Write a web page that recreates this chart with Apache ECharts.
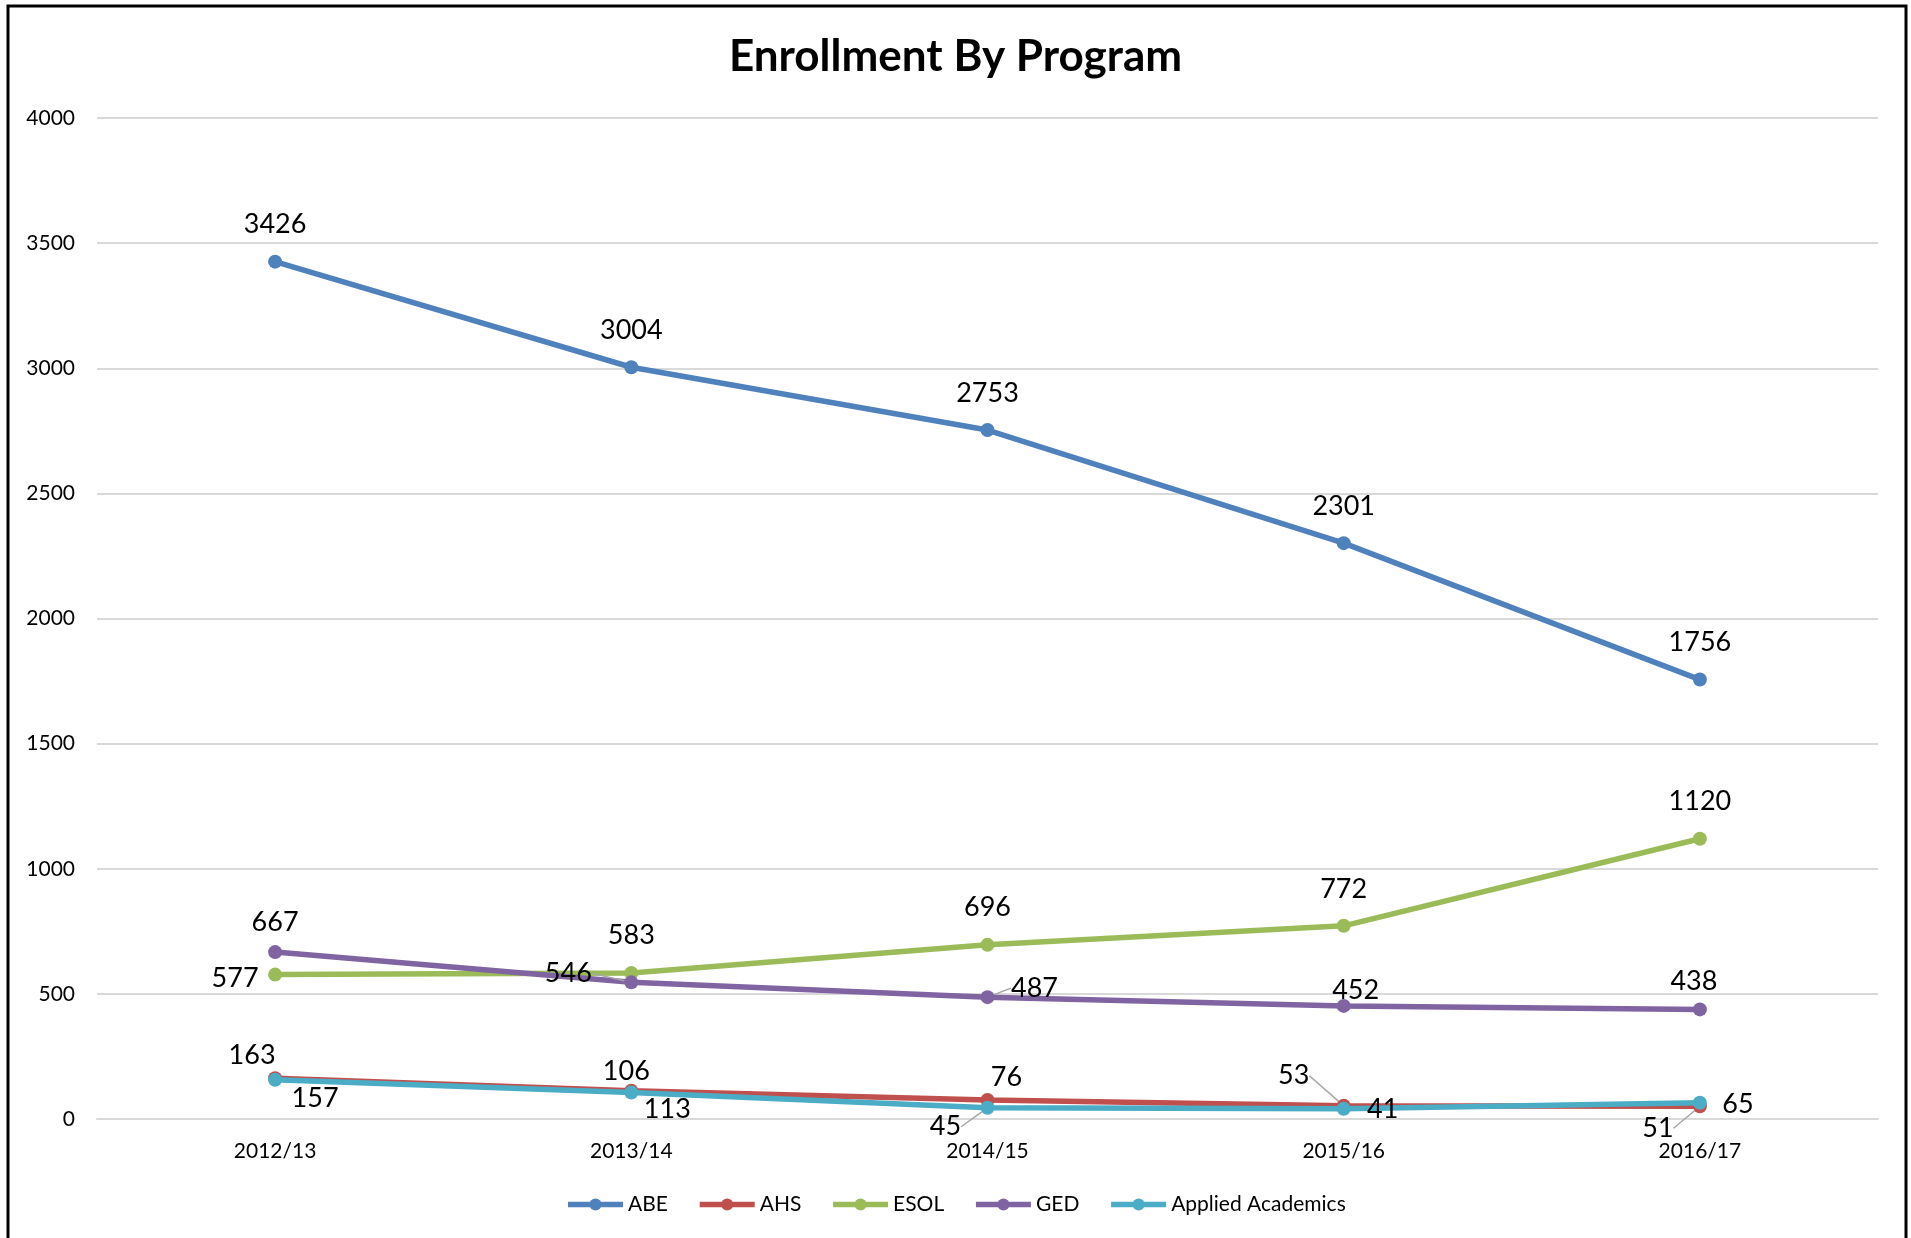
<!DOCTYPE html>
<html>
<head>
<meta charset="utf-8">
<script src="https://cdn.jsdelivr.net/npm/echarts@6/dist/echarts.min.js"></script>
<style>
  html, body { margin: 0; padding: 0; background: #fff; }
  #chart { width: 1911px; height: 1238px; }
</style>
</head>
<body>
<div id="chart"></div>
<script>
// ---- data ----
const categories = ['2012/13', '2013/14', '2014/15', '2015/16', '2016/17'];
const seriesNames = ['ABE', 'AHS', 'ESOL', 'GED', 'Applied Academics'];
const abe = [3426, 3004, 2753, 2301, 1756];
const ahs = [163, 113, 76, 53, 51];
const esol = [577, 583, 696, 772, 1120];
const ged = [667, 546, 487, 452, 438];
const appliedAcademics = [157, 106, 45, 41, 65];
const yTicks = [0, 500, 1000, 1500, 2000, 2500, 3000, 3500, 4000];

// ---- styling (label offsets in px, relative to the point) ----
const colors = ['#4F81BD', '#C0504D', '#9BBB59', '#8064A2', '#4BACC6'];
const labelOffsets = [
  [[0,-37],[0,-37],[0,-37],[0,-37],[0,-37]],
  [[-23,-23],[36,19],[19,-23],[-50,-30],[-42,22]],
  [[-40,4],[0,-38],[0,-38],[0,-37],[0,-37]],
  [[0,-30],[-63,-9],[47,-9],[12,-16],[-6,-28]],
  [[40,19],[-5,-21],[-42,19],[39,1],[38,2]]
];
const leaders = [
  [false,false,false,false,false],
  [false,false,false,true,true],
  [false,false,false,false,false],
  [false,true,true,false,false],
  [false,false,true,false,false]
];
const allData = [abe, ahs, esol, ged, appliedAcademics];

const FONT = 'Lato';
const chart = echarts.init(document.getElementById('chart'));

const series = allData.map((vals, si) => ({
  name: seriesNames[si],
  type: 'line',
  data: vals.map((v, i) => ({
    value: v,
    labelLine: { show: leaders[si][i] }
  })),
  symbol: 'circle',
  symbolSize: 14,
  lineStyle: { width: 5.5, color: colors[si] },
  itemStyle: { color: colors[si] },
  z: 2 + (si === 4 ? 1 : 0),
  label: {
    show: true,
    position: 'inside',
    color: '#000',
    fontFamily: FONT,
    fontSize: 27
  },
  labelLine: {
    show: false,
    lineStyle: { color: '#a6a6a6', width: 1.5 }
  },
  labelLayout: function (p) {
    const o = labelOffsets[p.seriesIndex][p.dataIndex];
    return { dx: o[0], dy: o[1] };
  },
  emphasis: { disabled: true },
  animation: false
}));

chart.setOption({
  animation: false,
  color: colors,
  title: {
    text: 'Enrollment By Program',
    left: 'center',
    top: 30,
    textStyle: { fontFamily: FONT, fontWeight: 'bold', fontSize: 44, color: '#000' }
  },
  grid: { left: 97, right: 33, top: 118, bottom: 119, containLabel: false },
  legend: {
    bottom: 18,
    left: 'center',
    itemWidth: 55,
    itemHeight: 15,
    itemGap: 29,
    lineStyle: { width: 5.5 },
    textStyle: { fontFamily: FONT, fontSize: 21, color: '#000' },
    data: seriesNames
  },
  xAxis: {
    type: 'category',
    data: categories,
    boundaryGap: true,
    axisLine: { show: true, lineStyle: { color: '#d9d9d9', width: 2 } },
    axisTick: { show: false },
    axisLabel: { fontFamily: FONT, fontSize: 21, color: '#000', margin: 22 }
  },
  yAxis: {
    type: 'value',
    min: yTicks[0],
    max: yTicks[yTicks.length - 1],
    interval: yTicks[1] - yTicks[0],
    axisLine: { show: false },
    axisTick: { show: false },
    splitLine: { lineStyle: { color: '#d9d9d9', width: 2 } },
    axisLabel: {
      fontFamily: FONT, fontSize: 21, color: '#000', margin: 22,
      formatter: function (v) { return String(v); }
    }
  },
  graphic: [{
    type: 'rect',
    shape: { x: 8, y: 6, width: 1898, height: 1300 },
    style: { fill: 'none', stroke: '#000', lineWidth: 3 },
    silent: true,
    z: 100
  }],
  series: series
});
</script>
</body>
</html>
